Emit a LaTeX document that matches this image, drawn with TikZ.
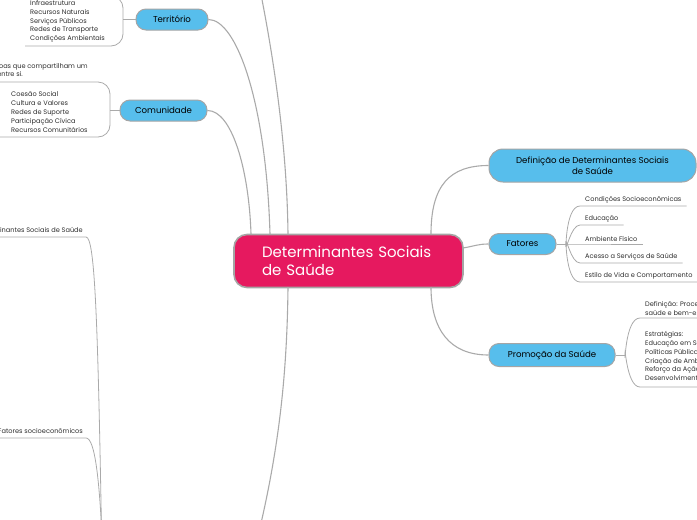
\documentclass[tikz,border=0pt]{standalone}
\usepackage{fontspec}
\setmainfont{Poppins}

\definecolor{rootpink}{HTML}{E6195F}
\definecolor{topicblue}{HTML}{57BEEC}
\definecolor{edgegray}{HTML}{AAAAAA}
\definecolor{rimgray}{HTML}{A5A5A5}
\definecolor{leaftext}{HTML}{2E2E2E}

\begin{document}
\begin{tikzpicture}[x=1pt,y=-1pt,
    root/.style={draw=rimgray, line width=1.6pt, fill=rootpink, rounded corners=13pt,
      minimum width=229pt, minimum height=53pt, text=white, align=left,
      text width=173pt, inner xsep=28pt, font=\fontsize{15}{18.5}\selectfont},
    topic/.style={draw=rimgray, line width=1pt, fill=topicblue, rounded corners=10pt,
      minimum height=21pt, inner sep=0pt, font=\fontsize{8.6}{11}\selectfont},
    leaf/.style={anchor=south west, inner xsep=5pt, inner ysep=2.5pt, align=left,
      text=leaftext, font=\fontsize{6.6}{8.8}\selectfont},
    link/.style={draw=edgegray, line width=1.1pt},
    thin link/.style={draw=edgegray, line width=0.8pt},
  ]
  \path[use as bounding box] (0,0) rectangle (697,520);
  \clip (0,0) rectangle (697,520);

  % central topic
  \node[root] (root) at (348.5,261) {Determinantes~Sociais\\de Saúde};

  % left branches
  \node[topic, minimum width=72pt] (terr) at (172,19.5) {Território};
  \node[topic, minimum width=87pt] (comm) at (163.5,110.5) {Comunidade};

  % territorio: list and bracket
  \node[leaf, anchor=west, inner sep=0pt] (terrlist) at (30,21.5)
    {Infraestrutura\\Recursos Naturais\\Serviços Públicos\\Redes de Transporte\\Condições Ambientais};
  \coordinate (terrjoin) at (123,19.5);
  \draw[thin link] (terr.west) -- (terrjoin);
  \draw[thin link, rounded corners=12pt] (25,-4) -- (123,-4) -- (123,46) -- (25,46);

  % comunidade: description, list and bracket
  \node[leaf, anchor=base east, inner sep=0pt] (commdesc) at (88,68.5)
    {Conjunto de pessoas que compartilham um};
  \node[leaf, anchor=base east, inner sep=0pt] (commdesc2) at (23,76.5)
    {espaço e interagem entre si.};
  \node[leaf, anchor=west, inner sep=0pt] (commlist) at (11,112)
    {Coesão Social\\Cultura e Valores\\Redes de Suporte\\Participação Cívica\\Recursos Comunitários};
  \coordinate (commjoin) at (110,110.5);
  \draw[thin link] (comm.west) -- (commjoin);
  \draw[thin link, rounded corners=12pt] (-5,82) -- (110,82) -- (110,137) -- (-5,137);

  % texts of branches below the frame
  \node[leaf, anchor=base east, inner sep=0pt] (detdesc) at (83,232.5)
    {Determinantes Sociais de Saúde};
  \node[leaf, anchor=base east, inner sep=0pt] (sociodesc) at (83,433.5)
    {Fatores socioeconômicos};
  \coordinate (lowA) at (102,560);
  \coordinate (lowB) at (103,560);
  \draw[thin link] (-5,237) -- (86,237) .. controls (95,237) and (98,320) .. (lowA);
  \draw[thin link] (-5,438) -- (86,438) .. controls (95,438) and (100,480) .. (lowB);

  % edges into the central topic
  \coordinate (upper) at (256,-30);
  \coordinate (lower) at (252,560);
  \draw[link] (comm.east) .. controls (232,110.5) and (249,170) .. (251,234);
  \draw[link] (terr.east) .. controls (236,19.5) and (266,100) .. (270,234);
  \draw[link] (upper) .. controls (275,60) and (287,150) .. (288,234);
  \draw[link] (288,287) .. controls (287,380) and (278,460) .. (lower);

  % right branches
  \node[topic, minimum width=207pt, minimum height=33pt, rounded corners=14pt, align=center]
    (defn) at (592.5,165.5) {Definição de Determinantes Sociais\\de Saúde};
  \node[topic, minimum width=67pt] (fat) at (522.5,244) {Fatores};
  \node[topic, minimum width=126pt, minimum height=23pt] (prom) at (552,355) {Promoção da Saúde};

  \draw[link] (431,234) .. controls (431,185) and (450,165.5) .. (defn.west);
  \draw[link] (463,248) .. controls (475,246) and (478,244) .. (fat.west);
  \draw[link] (431,287) .. controls (431,330) and (450,355) .. (prom.west);

  % fatores: items
  \node[leaf] (f1) at (580,206) {Condições Socioeconômicas};
  \node[leaf] (f2) at (580,225) {Educação};
  \node[leaf] (f3) at (580,244) {Ambiente Físico};
  \node[leaf] (f4) at (580,263) {Acesso a Serviços de Saúde};
  \node[leaf] (f5) at (580,282) {Estilo de Vida e Comportamento};
  \coordinate (fatjoin) at (566,244);
  \draw[thin link] (fat.east) -- (fatjoin);
  \foreach \n/\o in {f1/270,f2/270,f4/90,f5/90}
    \draw[thin link] (fatjoin) to[out=\o,in=180] (\n.south west) -- (\n.south east);
  \draw[thin link] (fatjoin) -- (f3.south west) -- (f3.south east);

  % promocao: items
  \node[leaf] (p1) at (640,318)
    {Definição: Processo de capacitação das pessoas para melhorar a sua\\saúde e bem-estar.};
  \node[leaf, inner ysep=6pt] (p2) at (640,387)
    {Estratégias:\\Educação em Saúde\\Políticas Públicas Saudáveis\\Criação de Ambientes Favoráveis\\Reforço da Ação Comunitária\\Desenvolvimento de Habilidades Pessoais};
  \coordinate (promjoin) at (625,355);
  \draw[thin link] (prom.east) -- (promjoin);
  \draw[thin link] (promjoin) to[out=270,in=180] (p1.south west) -- (p1.south east);
  \draw[thin link] (promjoin) to[out=90,in=180] (p2.south west) -- (p2.south east);
\end{tikzpicture}
\end{document}
